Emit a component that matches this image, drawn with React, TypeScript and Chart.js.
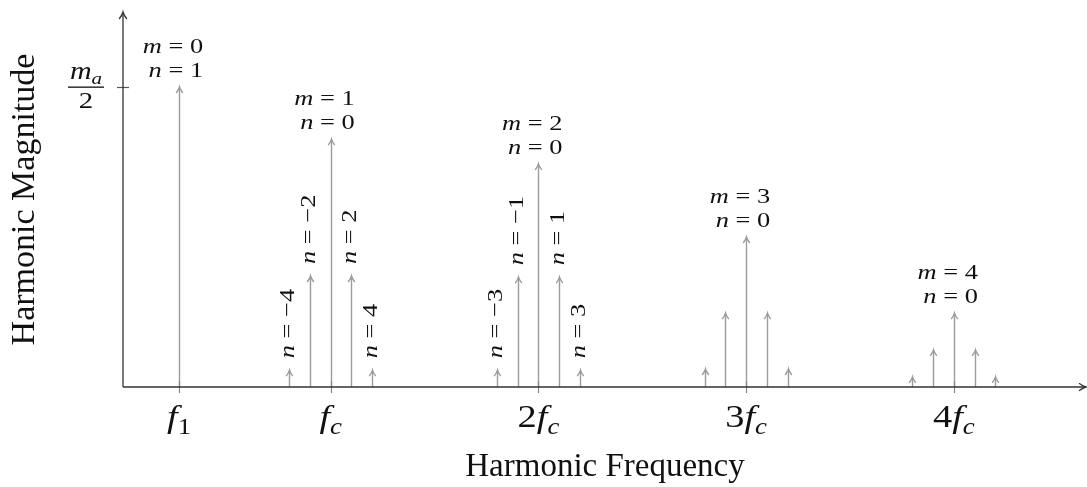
import React, { useEffect, useRef } from 'react';
import { Chart, registerables } from 'chart.js';

Chart.register(...registerables);

// ---- data ----
const tickPositions = [0.27, 1, 2, 3, 4];
const tickPrefix = ['', '', '2', '3', '4'];
const tickSub = ['1', 'c', 'c', 'c', 'c'];

const carrierX = [0.27, 1, 2, 3, 4];
const carrierY = [0.5, 0.413, 0.372, 0.25, 0.123];
const carrierM = ['0', '1', '2', '3', '4'];
const carrierN = ['1', '0', '0', '0', '0'];

const sidebandX = [0.8, 0.9, 1.1, 1.2, 1.8, 1.9, 2.1, 2.2, 2.8, 2.9, 3.1, 3.2, 3.8, 3.9, 4.1, 4.2];
const sidebandY = [0.028, 0.185, 0.185, 0.028, 0.028, 0.183, 0.183, 0.028, 0.03, 0.123, 0.123, 0.03, 0.017, 0.062, 0.062, 0.017];
const sidebandN = ['−4', '−2', '2', '4', '−3', '−1', '1', '3', '', '', '', '', '', '', '', ''];

const yTickValue = 0.5;
const xMax = 4.641;
const yMax = 0.625;

const xTitle = 'Harmonic Frequency';
const yTitle = 'Harmonic Magnitude';

// ---- helpers ----
const SERIF = '"Liberation Serif", "Times New Roman", serif';
const SX = 1.2;
const STEM = '#9c9c9c';
const AXIS = '#333333';

type Part = { t: string; it?: boolean; sub?: boolean };

function font(p: Part, size: number) {
  const s = p.sub ? size * 0.7 : size;
  return `${p.it ? 'italic ' : ''}${s}px ${SERIF}`;
}

function drawParts(ctx: CanvasRenderingContext2D, parts: Part[], x: number, y: number, size: number, align: 'left' | 'right' | 'center') {
  ctx.save();
  ctx.translate(x, y);
  ctx.scale(SX, 1);
  ctx.textAlign = 'left';
  ctx.textBaseline = 'alphabetic';
  let w = 0;
  const widths = parts.map((p) => {
    ctx.font = font(p, size);
    const m = ctx.measureText(p.t).width;
    w += m;
    return m;
  });
  let cx = align === 'right' ? -w : align === 'center' ? -w / 2 : 0;
  parts.forEach((p, i) => {
    ctx.font = font(p, size);
    ctx.fillText(p.t, cx, p.sub ? size * 0.22 : 0);
    cx += widths[i];
  });
  ctx.restore();
}

function arrowHead(ctx: CanvasRenderingContext2D, x: number, y: number, dir: 'up' | 'right', size: number) {
  ctx.beginPath();
  if (dir === 'up') {
    ctx.moveTo(x - size * 0.55, y + size);
    ctx.quadraticCurveTo(x - size * 0.1, y + size * 0.4, x, y);
    ctx.quadraticCurveTo(x + size * 0.1, y + size * 0.4, x + size * 0.55, y + size);
  } else {
    ctx.moveTo(x - size, y - size * 0.55);
    ctx.quadraticCurveTo(x - size * 0.4, y - size * 0.1, x, y);
    ctx.quadraticCurveTo(x - size * 0.4, y + size * 0.1, x - size, y + size * 0.55);
  }
  ctx.stroke();
}

const stemPlugin = {
  id: 'stems',
  afterDatasetsDraw(chart: any) {
    const ctx: CanvasRenderingContext2D = chart.ctx;
    const xs = chart.scales.x;
    const ys = chart.scales.y;
    const area = chart.chartArea;
    const y0 = ys.getPixelForValue(0);
    const x0 = xs.getPixelForValue(0);
    ctx.save();
    ctx.fillStyle = '#000';

    // stems
    ctx.strokeStyle = STEM;
    ctx.lineWidth = 1.4;
    [0, 1].forEach((di) => {
      const meta = chart.getDatasetMeta(di);
      meta.data.forEach((el: any) => {
        const px = Math.round(el.x) + 0.5;
        ctx.beginPath();
        ctx.moveTo(px, y0);
        ctx.lineTo(px, el.y + 1);
        ctx.stroke();
        arrowHead(ctx, px, el.y, 'up', 6);
      });
    });

    // x ticks
    ctx.strokeStyle = '#888';
    ctx.lineWidth = 1.2;
    tickPositions.forEach((v) => {
      const px = Math.round(xs.getPixelForValue(v)) + 0.5;
      ctx.beginPath();
      ctx.moveTo(px, y0 - 6);
      ctx.lineTo(px, y0 + 6);
      ctx.stroke();
    });
    // y tick
    const yt = Math.round(ys.getPixelForValue(yTickValue)) + 0.5;
    ctx.strokeStyle = '#555';
    ctx.beginPath();
    ctx.moveTo(x0 - 6, yt);
    ctx.lineTo(x0 + 6, yt);
    ctx.stroke();

    // axes
    ctx.strokeStyle = AXIS;
    ctx.lineWidth = 1.3;
    ctx.beginPath();
    ctx.moveTo(x0, y0);
    ctx.lineTo(area.right - 1, y0);
    ctx.moveTo(x0, y0);
    ctx.lineTo(x0, area.top + 1);
    ctx.stroke();
    arrowHead(ctx, x0, area.top, 'up', 7);
    arrowHead(ctx, area.right - 1, y0, 'right', 7);

    // x tick labels
    ctx.fillStyle = '#111';
    tickPositions.forEach((v, i) => {
      const px = xs.getPixelForValue(v);
      const parts: Part[] = [];
      if (tickPrefix[i]) parts.push({ t: tickPrefix[i] });
      parts.push({ t: 'f', it: true });
      parts.push({ t: tickSub[i], it: tickSub[i] === 'c', sub: true });
      drawParts(ctx, parts, px, y0 + 40, 32, 'center');
    });

    // y tick label: m_a / 2
    const fx = x0 - 37;
    drawParts(ctx, [{ t: 'm', it: true }, { t: 'a', it: true, sub: true }], fx, yt - 9, 25, 'center');
    ctx.fillRect(fx - 18, yt - 1, 36, 1.3);
    drawParts(ctx, [{ t: '2' }], fx, yt + 20, 24, 'center');

    // carrier labels
    const cm = chart.getDatasetMeta(0);
    cm.data.forEach((el: any, i: number) => {
      const rx = el.x + 24;
      drawParts(ctx, [{ t: 'm', it: true }, { t: ' = ' }, { t: carrierM[i] }], rx, el.y - 34, 22, 'right');
      drawParts(ctx, [{ t: 'n', it: true }, { t: ' = ' }, { t: carrierN[i] }], rx, el.y - 10, 22, 'right');
    });

    // sideband labels (rotated)
    const sm = chart.getDatasetMeta(1);
    sm.data.forEach((el: any, i: number) => {
      if (!sidebandN[i]) return;
      ctx.save();
      ctx.translate(el.x + 5, el.y - 12);
      ctx.rotate(-Math.PI / 2);
      drawParts(ctx, [{ t: 'n', it: true }, { t: ' = ' }, { t: sidebandN[i] }], 0, 0, 22, 'left');
      ctx.restore();
    });

    // axis titles
    ctx.fillStyle = '#111';
    ctx.font = `33px ${SERIF}`;
    ctx.textAlign = 'center';
    ctx.textBaseline = 'alphabetic';
    ctx.fillText(xTitle, (x0 + area.right) / 2, 476);
    ctx.save();
    ctx.translate(34, (area.top + y0) / 2);
    ctx.rotate(-Math.PI / 2);
    ctx.font = `34px ${SERIF}`;
    ctx.fillText(yTitle, 0, 0);
    ctx.restore();

    ctx.restore();
  },
};

export default function App() {
  const ref = useRef<HTMLCanvasElement | null>(null);
  useEffect(() => {
    if (!ref.current) return;
    const chart = new Chart(ref.current, {
      type: 'scatter',
      data: {
        datasets: [
          { label: 'carriers', data: carrierX.map((x, i) => ({ x, y: carrierY[i] })), pointRadius: 0, showLine: false },
          { label: 'sidebands', data: sidebandX.map((x, i) => ({ x, y: sidebandY[i] })), pointRadius: 0, showLine: false },
        ],
      },
      options: {
        responsive: false,
        animation: false,
        devicePixelRatio: 1,
        layout: { padding: { left: 123, top: 12, right: 0, bottom: 100 } },
        plugins: { legend: { display: false }, tooltip: { enabled: false } },
        scales: {
          x: { type: 'linear', min: 0, max: xMax, display: false },
          y: { type: 'linear', min: 0, max: yMax, display: false },
        },
      },
      plugins: [stemPlugin],
    });
    return () => chart.destroy();
  }, []);
  return (
    <div style={{ position: 'fixed', left: 0, top: 0, width: 1087, height: 487, background: '#fff' }}>
      <canvas ref={ref} width={1087} height={487} style={{ display: 'block' }} />
    </div>
  );
}
